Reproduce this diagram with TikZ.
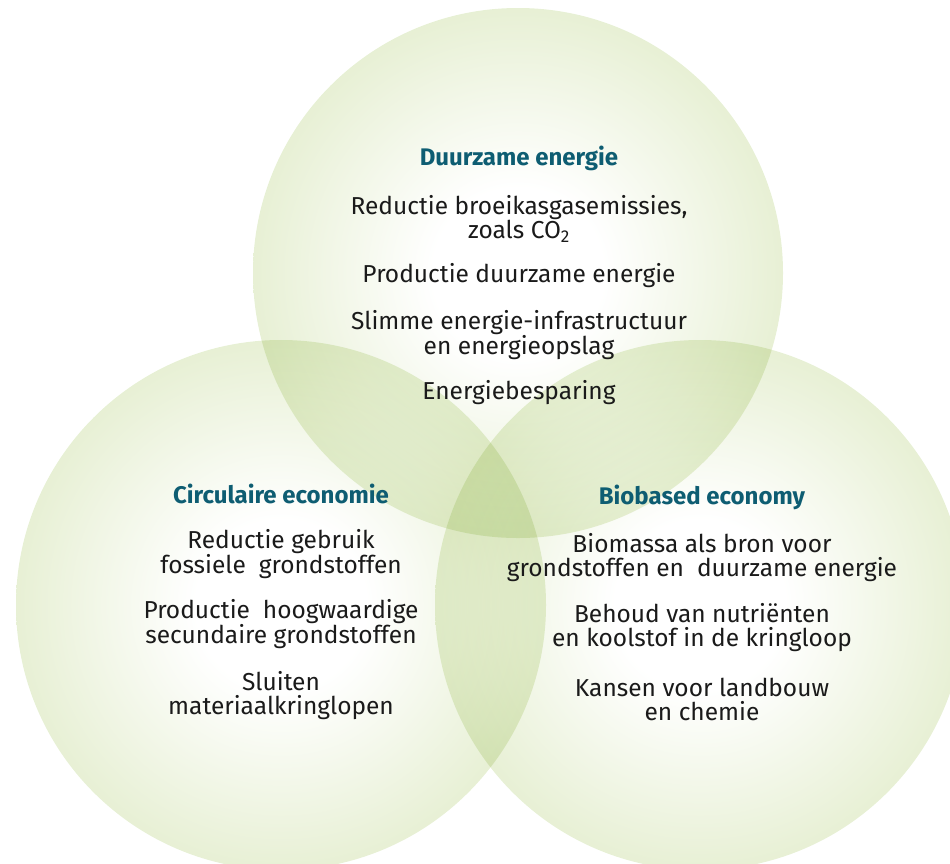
\documentclass[tikz,border=0pt]{standalone}
\usepackage{fontspec}
\setmainfont{Fira Sans}
\usetikzlibrary{positioning}

\definecolor{venngreen}{RGB}{230,239,210}
\definecolor{titleblue}{RGB}{14,93,114}
\definecolor{bodyblack}{RGB}{26,26,26}
\pgfdeclareradialshading{vennglow}{\pgfpoint{0bp}{0bp}}{%
  color(0bp)=(white); color(8bp)=(white); color(26bp)=(venngreen); color(50bp)=(venngreen)}

\begin{document}
\begin{tikzpicture}[
          x=1pt, y=-1pt,
          venn/.style={shading=vennglow},
          head/.style={font=\fontsize{24}{26}\selectfont\bfseries, text=titleblue},
          item/.style={font=\fontsize{24.5}{24}\selectfont, text=bodyblack, align=center, inner sep=0pt}
        ]
        \useasboundingbox (0,0) rectangle (950,863);
        \coordinate (duur) at (518,273);
        \coordinate (circ) at (281,605);
        \coordinate (bio) at (700,605);

        \begin{scope}[blend mode=multiply]
          \shade[venn] (duur) circle (265);
          \shade[venn] (circ) circle (265);
          \shade[venn] (bio) circle (265);
        \end{scope}

        % duurzame energie
        \node[head] (duurkop) at (519,158) {Duurzame energie};
        \node[item] (duur1) at (519,219) {Reductie broeikasgasemissies,\\zoals CO\textsubscript{2}};
        \node[item] (duur2) at (519,276) {Productie duurzame energie};
        \node[item] (duur3) at (519,335) {Slimme energie-infrastructuur\\en energieopslag};
        \node[item] (duur4) at (519,393) {Energiebesparing};

        % circulaire economie
        \node[head] (circkop) at (281,494) {Circulaire economie};
        \node[item] (circ1) at (281,554) {Reductie gebruik\\fossiele\ \ grondstoffen};
        \node[item] (circ2) at (281,624) {Productie\ \ hoogwaardige\\secundaire grondstoffen};
        \node[item] (circ3) at (281,696) {Sluiten\\materiaalkringlopen};

        % biobased economy
        \node[head] (biokop) at (702,497) {Biobased economy};
        \node[item] (bio1) at (702,558) {Biomassa als bron voor\\grondstoffen en\ \ duurzame energie};
        \node[item] (bio2) at (702,628) {Behoud van nutriënten\\en koolstof in de kringloop};
        \node[item] (bio3) at (702,699) {Kansen voor landbouw\\en chemie};
        \end{tikzpicture}
\end{document}
